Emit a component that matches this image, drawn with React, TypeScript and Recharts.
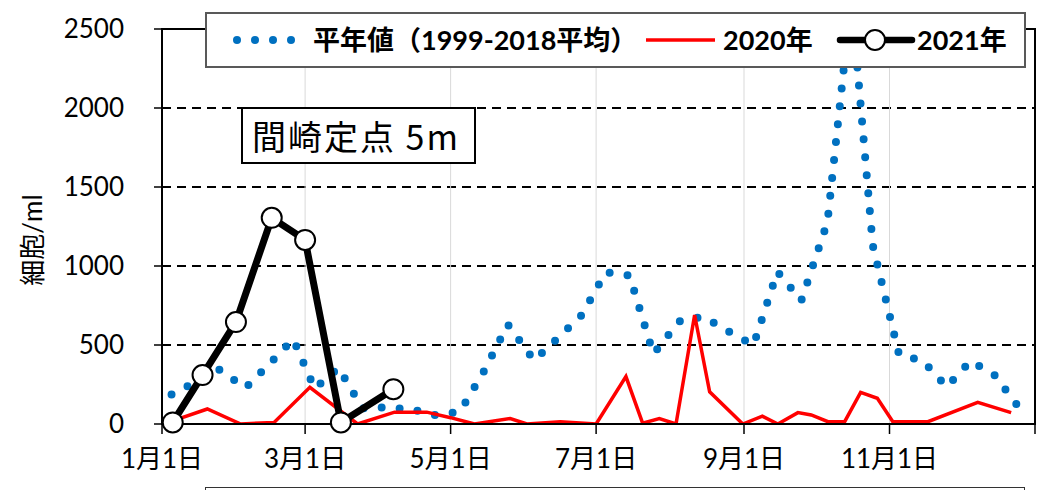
import { LineChart, Line, XAxis, YAxis, CartesianGrid, Legend, ReferenceArea } from 'recharts';

// x axis is day-of-year on a leap-year calendar (1/1 = 0)
const majorTicks = [0, 60, 121, 182, 244, 305, 366];
const majorLabels = ['1月1日', '3月1日', '5月1日', '7月1日', '9月1日', '11月1日', ''];
const minorTicks = [31, 91, 152, 213, 274, 335];
const yTicks = [0, 500, 1000, 1500, 2000, 2500];

// 平年値 (1999-2018平均): 5th / 15th / 25th of each month
const normalDays = [4, 14, 24, 35, 45, 55, 64, 74, 84, 95, 105, 115, 125, 135, 145, 156, 166, 176, 186, 196, 206, 217, 227, 237, 248, 258, 268, 279, 289, 298, 309, 319, 329, 339, 349, 359];
const normalValues = [186, 265, 344, 228, 380, 538, 224, 355, 100, 105, 91, 54, 80, 335, 630, 403, 545, 690, 960, 940, 444, 650, 680, 590, 500, 965, 780, 1280, 2700, 1130, 440, 400, 235, 400, 310, 110];

// 2020年
const days2020 = [4.5, 19, 33, 47, 62, 82, 97.5, 111, 121, 131, 146, 153, 167, 182, 194.5, 201.5, 208.5, 215.5, 223.3, 229.6, 243.5, 251.7, 258.2, 266.6, 272.2, 279.2, 286.2, 292.9, 299.9, 306.4, 321.1, 342, 356];
const values2020 = [20, 95, 0, 10, 232, 0, 75, 75, 40, 0, 35, 0, 15, 0, 300, 5, 35, 0, 690, 204, 0, 50, 0, 72, 57, 15, 15, 200, 163, 15, 15, 137, 72];

// 2021年
const days2021 = [4.5, 17, 31, 46, 60, 75, 97];
const values2021 = [10, 310, 645, 1305, 1165, 10, 220];

const normalData = normalDays.map((day, i) => ({ day, value: normalValues[i] }));
const data2020 = days2020.map((day, i) => ({ day, value: values2020[i] }));
const data2021 = days2021.map((day, i) => ({ day, value: values2021[i] }));

const FONT = "Lato, 'Noto Sans CJK JP', sans-serif";
const CJK = "'Noto Sans CJK JP', sans-serif";
const BLUE = '#0070C0';

function LegendBox() {
  const text = { position: 'absolute' as const, top: 0, lineHeight: '52px', whiteSpace: 'nowrap' as const };
  return (
    <div
      style={{
        position: 'relative',
        width: 821,
        height: 56,
        boxSizing: 'border-box',
        border: '2px solid #595959',
        background: '#fff',
        fontFamily: FONT,
        fontWeight: 700,
        fontSize: 27,
        color: '#000',
      }}
    >
      <svg width={821} height={56} style={{ position: 'absolute', left: -2, top: -2 }}>
        {[32, 50, 68, 86].map((x) => (
          <circle key={x} cx={x} cy={28} r={4} fill={BLUE} />
        ))}
        <line x1={441} x2={510} y1={28} y2={28} stroke="#ff0000" strokeWidth={3.5} />
        <line x1={635} x2={707} y1={28} y2={28} stroke="#000" strokeWidth={6.5} strokeLinecap="round" />
        <circle cx={670} cy={28} r={10} fill="#fff" stroke="#000" strokeWidth={2} />
      </svg>
      <span style={{ ...text, left: 106 }}>平年値（1999-2018平均）</span>
      <span style={{ ...text, left: 516 }}>2020年</span>
      <span style={{ ...text, left: 710 }}>2021年</span>
    </div>
  );
}

export default function App() {
  return (
    <div style={{ position: 'absolute', left: 0, top: 0, width: 1038, height: 490, background: '#fff' }}>
      <LineChart width={1038} height={490} margin={{ top: 29, right: 3, left: 92, bottom: 26 }}>
        <CartesianGrid vertical={false} stroke="#000" strokeWidth={2} strokeDasharray="9 6" />
        <CartesianGrid horizontal={false} stroke="#d9d9d9" strokeWidth={1} />
        <XAxis
          dataKey="day"
          type="number"
          domain={[0, 366]}
          ticks={majorTicks}
          tickFormatter={(v) => majorLabels[majorTicks.indexOf(v)] ?? ''}
          allowDataOverflow
          height={40}
          tickSize={10}
          tickMargin={16}
          axisLine={{ stroke: '#000', strokeWidth: 2 }}
          tickLine={{ stroke: '#000', strokeWidth: 1.5 }}
          tick={{ fill: '#000', fontSize: 26, fontFamily: FONT }}
        />
        <XAxis
          xAxisId="minor"
          dataKey="day"
          type="number"
          domain={[0, 366]}
          ticks={minorTicks}
          allowDataOverflow
          mirror
          height={0}
          tickSize={8}
          axisLine={false}
          tickFormatter={() => ''}
          tickLine={{ stroke: '#000', strokeWidth: 1.5 }}
        />
        <YAxis
          type="number"
          domain={[0, 2500]}
          ticks={yTicks}
          allowDataOverflow
          width={70}
          tickSize={8}
          tickMargin={30}
          axisLine={{ stroke: '#000', strokeWidth: 2 }}
          tickLine={{ stroke: '#000', strokeWidth: 1.5 }}
          tick={{ fill: '#000', fontSize: 26, fontFamily: FONT }}
        />
        <ReferenceArea x1={0} x2={366} y1={0} y2={2500} fill="none" stroke="#000" strokeWidth={2} ifOverflow="visible" />
        <Legend
          layout="horizontal"
          verticalAlign="middle"
          align="center"
          width={821}
          height={56}
          wrapperStyle={{ left: 205, top: 12, width: 821, height: 56 }}
          content={() => <LegendBox />}
        />
        <Line
          data={normalData}
          dataKey="value"
          name="平年値（1999-2018平均）"
          type="linear"
          stroke={BLUE}
          strokeWidth={8}
          strokeDasharray="0 18"
          strokeLinecap="round"
          dot={false}
          isAnimationActive={false}
        />
        <Line
          data={data2020}
          dataKey="value"
          name="2020年"
          type="linear"
          stroke="#ff0000"
          strokeWidth={3.5}
          dot={false}
          isAnimationActive={false}
        />
        <Line
          data={data2021}
          dataKey="value"
          name="2021年"
          type="linear"
          stroke="#000"
          strokeWidth={7}
          strokeLinejoin="round"
          dot={{ r: 10, fill: '#fff', stroke: '#000', strokeWidth: 2, clipDot: false }}
          isAnimationActive={false}
        />
      </LineChart>

      <div
        style={{
          position: 'absolute',
          left: 241,
          top: 107,
          width: 235,
          height: 57,
          boxSizing: 'border-box',
          border: '2px solid #000',
          background: '#fff',
          fontFamily: CJK,
          fontSize: 34,
          letterSpacing: 2,
          lineHeight: '53px',
          paddingLeft: 9,
          whiteSpace: 'nowrap',
          overflow: 'hidden',
          color: '#000',
        }}
      >
        間崎定点 5m
      </div>

      <div
        style={{
          position: 'absolute',
          left: 30,
          top: 240,
          transform: 'translate(-50%, -50%) rotate(-90deg)',
          fontFamily: FONT,
          fontSize: 26,
          whiteSpace: 'nowrap',
          color: '#000',
        }}
      >
        細胞/ml
      </div>

      <div
        style={{
          position: 'absolute',
          left: 205,
          top: 487,
          width: 820,
          height: 10,
          boxSizing: 'border-box',
          border: '1.5px solid #333',
          borderBottom: 'none',
        }}
      />
    </div>
  );
}
